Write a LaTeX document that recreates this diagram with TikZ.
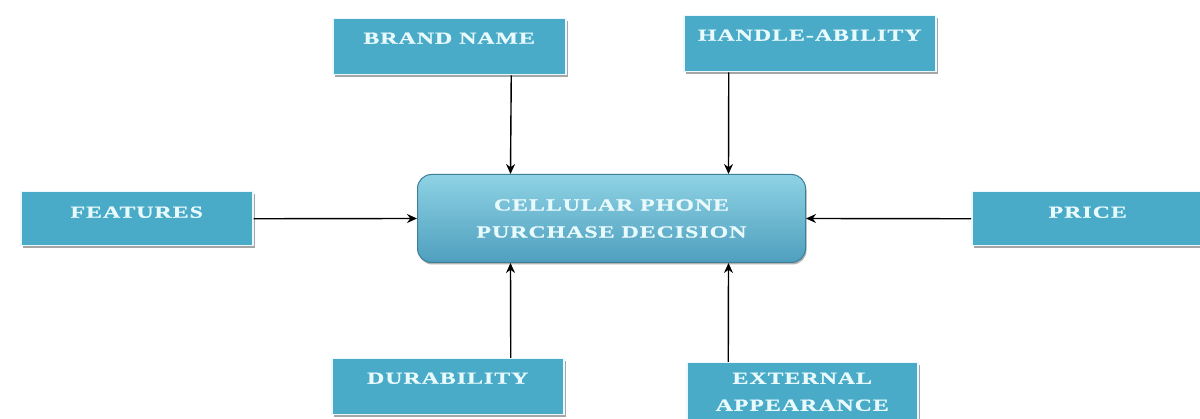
\documentclass[tikz,border=0pt]{standalone}
\usepackage{fontspec}
\usepackage{xcolor}
\usepackage{tikz}
\usetikzlibrary{arrows.meta,positioning,shadows}
\newfontfamily\boxfont{Liberation Serif}[FakeStretch=1.4,LetterSpace=6,FakeBold=1]
\definecolor{boxblue}{HTML}{4AABC8}
\definecolor{boxtext}{HTML}{E8FAFC}
\definecolor{decitop}{HTML}{8ED2E4}
\definecolor{decibot}{HTML}{4E9FBE}
\tikzset{
  factor/.style={fill=boxblue,draw=cyan!8,line width=1.5pt,anchor=north west,
    inner xsep=0pt,inner ysep=0pt,text height=25pt,text depth=31pt,
    font=\boxfont\bfseries\fontsize{17}{27}\selectfont,text=boxtext,align=center,
    drop shadow={shadow xshift=2pt,shadow yshift=-2pt,fill=gray!70,opacity=1}},
  arr/.style={line width=1.4pt,-{Stealth[length=10pt,width=9pt]}}
}
\begin{document}
\begin{tikzpicture}[x=1pt,y=-1pt]
\useasboundingbox[fill=white] (0,0) rectangle (1200,419);
\node[factor,minimum width=233pt] (brand) at (332,18) {BRAND NAME};
\node[factor,minimum width=252pt] (handle) at (683,15) {HANDLE-ABILITY};
\node[factor,minimum width=232pt,text height=26pt,text depth=28pt] (features) at (20,191) {FEATURES};
\node[factor,minimum width=232pt,text height=26pt,text depth=28pt] (price) at (971,191) {PRICE};
\node[factor,minimum width=232pt] (durability) at (331,358) {DURABILITY};
\node[factor,minimum width=231pt,text height={},text depth={},minimum height=58pt,
  inner ysep=4pt] (appearance) at (686,362) {EXTERNAL\\APPEARANCE};
\node[anchor=north west,minimum width=388pt,minimum height=88pt,rounded corners=14pt,
  top color=decitop,bottom color=decibot,draw=decibot!80!black,line width=1pt,
  drop shadow={shadow xshift=1pt,shadow yshift=-2pt,fill=gray!60,opacity=1},
  font=\boxfont\bfseries\fontsize{17}{27}\selectfont,text=boxtext,align=center]
  (decision) at (417,174) {CELLULAR PHONE\\PURCHASE DECISION};
\draw[arr] ([xshift=62pt]brand.south) -- ([xshift=-101pt]decision.north);
\draw[arr] ([xshift=-81pt]handle.south) -- ([xshift=117pt]decision.north);
\draw[arr] (features.east) -- (decision.west);
\draw[arr] (price.west) -- (decision.east);
\draw[arr] ([xshift=63pt]durability.north) -- ([xshift=-101pt]decision.south);
\draw[arr] ([xshift=-74pt]appearance.north) -- ([xshift=117pt]decision.south);
\end{tikzpicture}
\end{document}
